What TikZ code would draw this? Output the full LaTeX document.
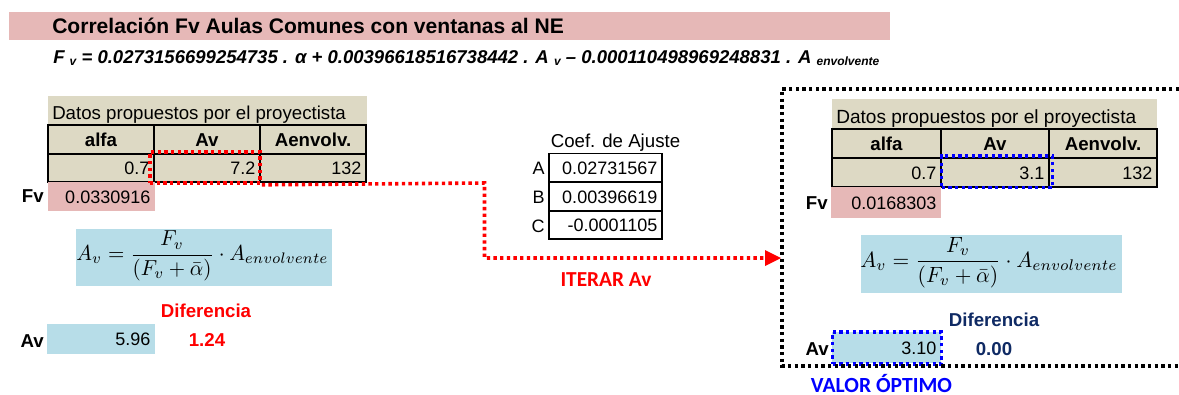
\documentclass[tikz,border=0pt]{standalone}
\usepackage{fontspec}
\usepackage{graphicx}
\setmainfont{Liberation Sans}
\newfontfamily\calib{Carlito}
\usetikzlibrary{arrows.meta}
\definecolor{beige}{HTML}{DDD9C4}
\definecolor{pinkc}{HTML}{E6B8B7}
\definecolor{bluec}{HTML}{B7DDE8}
\definecolor{navyc}{HTML}{0F2A64}
\newcommand{\body}{\fontsize{13.5}{16}\selectfont}
\newcommand{\bodyl}{\fontsize{14}{16}\selectfont}
\newcommand{\bodyr}{\fontsize{14.3}{16}\selectfont}
\newcommand{\bodyb}{\fontsize{14}{16}\selectfont\bfseries}
\newcommand{\subs}[1]{\raisebox{-2.2pt}{\fontsize{9}{9}\selectfont #1}}
% name, x0, y0, x1, y1, style, text
\newcommand{\cellbox}[7]{\node[cellb,#6,minimum width={(#4-#2)*0.75pt},minimum height={(#5-#3)*0.75pt},text width={(#4-#2)*0.75pt-7pt}] (#1) at ({(#2+#4)/2},{(#3+#5)/2}) {#7};}
\newcommand{\formula}[2]{\resizebox*{#1}{#2}{$\displaystyle A_v=\frac{F_v}{(F_v+\bar{\alpha})}\cdot A_{envolvente}$}}
\tikzset{
  cellb/.style={inner sep=0pt,text height=10pt,text depth=0pt,align=right,font=\body},
  ruled/.style={draw=black,line width=1.2pt,fill=beige},
  headc/.style={align=center,font=\bodyb},
  beigefill/.style={fill=beige},
  pinkfill/.style={fill=pinkc},
  bluefill/.style={fill=bluec},
  plainrule/.style={draw=black,line width=1.2pt},
  lab/.style={inner sep=0pt,anchor=base},
  boldlab/.style={lab,font=\bodyb},
  dots/.style={line width=2.7pt,dash pattern=on 2.5pt off 2.5pt},
  dotbox/.style={draw,dots,inner sep=0pt,fill=none},
}
\begin{document}
\begin{tikzpicture}[x=0.75pt,y=-0.75pt]
\useasboundingbox (0,0) rectangle (1179,394);
% title
\node[fill=pinkc,inner sep=0pt,minimum width={881*0.75pt},minimum height={28*0.75pt}] (band) at (449.5,26) {};
\node[lab,anchor=base west,font=\fontsize{15.8}{18}\selectfont\bfseries] (title) at (52,33) {Correlación Fv Aulas Comunes con ventanas al NE};
\node[lab,anchor=base west,font=\fontsize{13.9}{16}\selectfont\bfseries\itshape] (eqn) at (53,63) {F \subs{v} = 0.0273156699254735 . α + 0.00396618516738442 . A \subs{v} – 0.000110498969248831 . A \subs{envolvente}};
% left table
\cellbox{lhead}{48}{96}{367}{125}{beigefill}{}
\node[lab,anchor=base west,font=\bodyl] (ldatos) at (52,119) {Datos propuestos por el proyectista};
\cellbox{la}{48}{125}{154}{154}{ruled,headc}{alfa}
\cellbox{lb}{154}{125}{260}{154}{ruled,headc}{Av}
\cellbox{lc}{260}{125}{366}{154}{ruled,headc}{Aenvolv.}
\cellbox{lva}{48}{154}{154}{182}{ruled}{0.7}
\cellbox{lvb}{154}{154}{260}{182}{ruled}{7.2}
\cellbox{lvc}{260}{154}{366}{182}{ruled}{132}
\cellbox{lfv}{48}{182}{155}{211}{pinkfill}{0.0330916}
\node[boldlab,anchor=base east] (lfvl) at (44,202) {Fv};
\node[fill=bluec,inner sep=0pt,minimum width={256*0.75pt},minimum height={57*0.75pt}] (lform) at (204,257.5) {};
\node[inner sep=0pt] (lftext) at (202.5,256) {\formula{189pt}{37.5pt}};
\node[boldlab,text=red] (ldif) at (206,317) {Diferencia};
\cellbox{lav}{47}{324}{155}{354}{bluefill}{5.96}
\node[boldlab,anchor=base east] (lavl) at (44,347) {Av};
\node[boldlab,text=red] (ldv) at (207,346) {1.24};
% coefficient table
\node[lab,font=\bodyl] (ctitle) at (615.5,147) {Coef. de Ajuste};
\cellbox{ca}{549}{153.5}{662}{182}{plainrule}{0.02731567}
\cellbox{cb}{549}{182}{662}{211}{plainrule}{0.00396619}
\cellbox{cc}{549}{211}{662}{239}{plainrule}{-0.0001105}
\node[lab,anchor=base east,font=\body] (cal) at (545,174) {A};
\node[lab,anchor=base east,font=\body] (cbl) at (545,203) {B};
\node[lab,anchor=base east,font=\body] (ccl) at (545,232) {C};
% right table
\cellbox{rhead}{832}{99}{1157}{129}{beigefill}{}
\node[lab,anchor=base west,font=\bodyr] (rdatos) at (836,123) {Datos propuestos por el proyectista};
\cellbox{ra}{832}{129}{941}{158}{ruled,headc}{alfa}
\cellbox{rb}{941}{129}{1049}{158}{ruled,headc}{Av}
\cellbox{rc}{1049}{129}{1157}{158}{ruled,headc}{Aenvolv.}
\cellbox{rva}{832}{158}{941}{187}{ruled}{0.7}
\cellbox{rvb}{941}{158}{1049}{187}{ruled}{3.1}
\cellbox{rvc}{1049}{158}{1157}{187}{ruled}{132}
\cellbox{rfv}{831}{187}{941}{218}{pinkfill}{0.0168303}
\node[boldlab,anchor=base east] (rfvl) at (828,209) {Fv};
\node[fill=bluec,inner sep=0pt,minimum width={261*0.75pt},minimum height={58*0.75pt}] (rform) at (991.5,264) {};
\node[inner sep=0pt] (rftext) at (989,262.5) {\formula{193pt}{38pt}};
\node[boldlab,text=navyc] (rdif) at (994,326) {Diferencia};
\cellbox{rav}{832}{332}{941}{363}{bluefill}{3.10}
\node[boldlab,anchor=base east] (ravl) at (829,355) {Av};
\node[boldlab,text=navyc] (rdv) at (994,355) {0.00};
% dotted highlights
\node[dotbox,draw=red,minimum width={110*0.75pt},minimum height={31*0.75pt}] (redbox) at (205,167.5) {};
\node[dotbox,draw=blue,minimum width={111*0.75pt},minimum height={31.5*0.75pt}] (bluebox) at (997,171.8) {};
\node[dotbox,draw=blue,minimum width={109*0.75pt},minimum height={32*0.75pt}] (blueav) at (887,348) {};
% black frame, open on the right
\coordinate (ftr) at (1179,89);
\coordinate (fbr) at (1179,366);
\coordinate (ftl) at (782,89);
\coordinate (fbl) at (782,366);
\coordinate (ftarget) at (781,258);
\draw[black,dots] (ftr) -- (ftl) -- (fbl) -- (fbr);
% connector
\coordinate (bend) at (484.5,183);
\draw[red,dots] (redbox.south east) -- (bend) -- (bend |- ftarget) -- ([xshift=-12pt]ftarget);
\fill[red] (ftarget) -- (765,250) -- (765,266) -- cycle;
% captions
\node[lab,text=red,font=\fontsize{16}{18}\selectfont\calib\bfseries] (iter) at (606,286) {ITERAR Av};
\node[lab,text=blue,font=\fontsize{16.2}{18}\selectfont\calib\bfseries] (opt) at (881.5,392.5) {VALOR ÓPTIMO};
\end{tikzpicture}
\end{document}
